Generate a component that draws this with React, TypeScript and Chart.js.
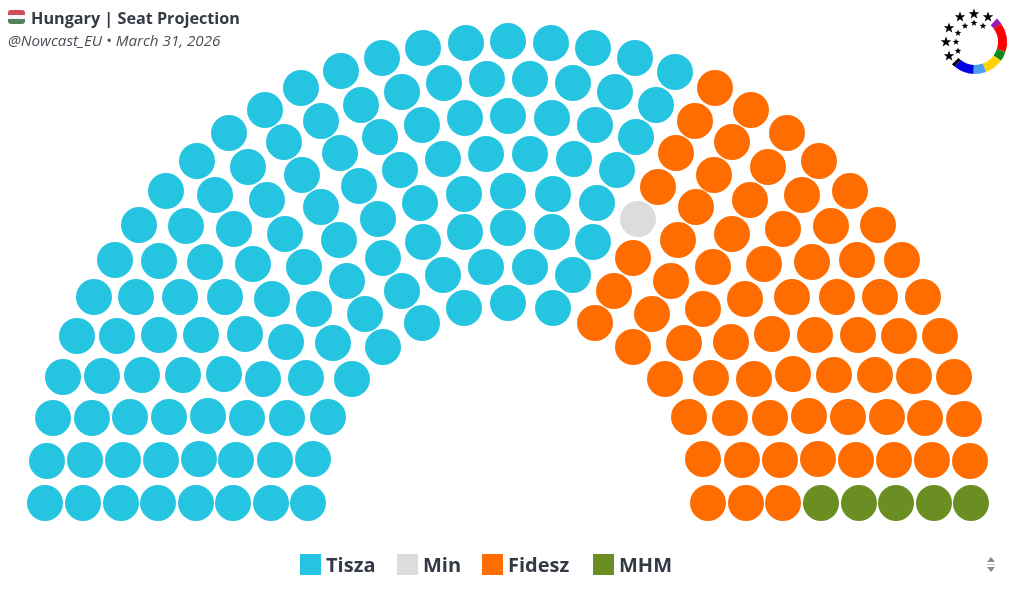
import React, { useEffect, useRef } from 'react';
import { Chart, registerables } from 'chart.js';

Chart.register(...registerables);

// seat positions, [x, y], one line per ring from the outside in
const tiszaSeats: number[][] = [
    [45, 503], [47, 461], [53, 418], [63, 377], [77, 336], [94, 297], [115, 260], [139, 225], [166, 191], [197, 161], [229, 133], [265, 110], [301, 88], [341, 71], [382, 58], [423, 48], [466, 43], [508, 41], [551, 43], [593, 48], [635, 58], [675, 72],
    [83, 503], [85, 460], [92, 418], [102, 376], [117, 336], [136, 297], [159, 261], [186, 226], [215, 195], [248, 167], [284, 142], [321, 121], [361, 105], [402, 92], [444, 83], [487, 79], [530, 79], [573, 83], [615, 92], [656, 105],
    [121, 503], [123, 460], [130, 417], [142, 375], [159, 335], [180, 297], [205, 262], [234, 229], [267, 200], [302, 175], [340, 153], [380, 137], [422, 125], [465, 118], [508, 116], [552, 118], [595, 125], [636, 137],
    [158, 503], [161, 460], [169, 417], [183, 375], [201, 335], [225, 297], [253, 264], [285, 234], [321, 207], [359, 186], [400, 170], [443, 159], [486, 154], [530, 154], [574, 159], [617, 170],
    [196, 503], [199, 459], [208, 416], [224, 374], [245, 334], [272, 299], [304, 267], [339, 240], [378, 219], [420, 203], [464, 194], [508, 191], [553, 194], [597, 203],
    [233, 503], [236, 460], [247, 418], [263, 379], [286, 342], [314, 309], [347, 281], [383, 258], [423, 242], [465, 232], [508, 228], [552, 232], [593, 242],
    [271, 503], [275, 460], [287, 418], [306, 378], [333, 343], [365, 314], [402, 291], [443, 275], [486, 267], [530, 267], [573, 275],
    [308, 503], [313, 459], [328, 417], [352, 379], [383, 347], [422, 323], [464, 308], [508, 303], [553, 308],
];
const minSeats: number[][] = [[638, 219]];
const fideszSeats: number[][] = [
    [715, 88], [751, 110], [787, 133], [819, 161], [850, 191], [878, 225], [902, 260], [923, 297], [940, 336], [954, 377], [964, 419], [970, 461],
    [695, 121], [732, 142], [768, 167], [802, 195], [831, 226], [857, 260], [880, 297], [899, 336], [914, 376], [925, 418], [932, 460],
    [676, 153], [714, 175], [750, 200], [783, 229], [812, 262], [837, 297], [858, 335], [875, 375], [887, 417], [894, 460],
    [658, 187], [696, 207], [732, 234], [764, 264], [792, 297], [815, 335], [834, 375], [848, 417], [856, 460],
    [678, 240], [713, 267], [745, 299], [772, 334], [793, 374], [809, 416], [818, 459],
    [633, 258], [671, 281], [703, 309], [731, 342], [754, 379], [770, 418], [780, 460], [783, 503],
    [614, 291], [652, 314], [684, 343], [711, 378], [730, 418], [742, 460], [746, 503],
    [595, 323], [633, 347], [665, 379], [689, 417], [703, 459], [708, 503],
];
const mhmSeats: number[][] = [[821, 503], [859, 503], [896, 503], [934, 503], [971, 503]];

const partyNames = ['Tisza', 'Min', 'Fidesz', 'MHM'];
const partyColors = ['#25c5e2', '#dcdcdc', '#ff6d00', '#6b8e23'];
const partySeats = [tiszaSeats, minSeats, fideszSeats, mhmSeats];
const legendLefts = [300, 397, 482, 593];

const textColor = '#333a45';
const fontFamily = '"Open Sans", sans-serif';

// logo ring: colour, start and end angle in degrees clockwise from the top
const logoArcs: [string, number, number][] = [
    ['#9b19b5', 43, 55],
    ['#ff0000', 55, 108],
    ['#0c8a1c', 108, 126],
    ['#ffd400', 126, 160],
    ['#4a9df0', 160, 183],
    ['#0000e6', 183, 219],
    ['#000000', 219, 226],
];
const logoBigStars = [[974, 14], [960, 17], [988, 17], [949, 28], [946, 42], [949, 56]];
const logoSmallStars = [[974, 23], [965, 26], [983, 26], [958, 33], [956, 42], [958, 51]];

function starPoints(cx: number, cy: number, r: number) {
    const pts: string[] = [];
    for (let i = 0; i < 10; i++) {
        const rad = i % 2 === 0 ? r : r * 0.42;
        const a = (i * Math.PI) / 5 - Math.PI / 2;
        pts.push(`${cx + rad * Math.cos(a)},${cy + rad * Math.sin(a)}`);
    }
    return pts.join(' ');
}

function arcPath(cx: number, cy: number, r: number, from: number, to: number) {
    const p = (d: number) => {
        const a = ((d - 90) * Math.PI) / 180;
        return `${cx + r * Math.cos(a)} ${cy + r * Math.sin(a)}`;
    };
    return `M ${p(from)} A ${r} ${r} 0 0 1 ${p(to)}`;
}

export default function App() {
    const chartRef = useRef<HTMLCanvasElement | null>(null);

    useEffect(() => {
        document.body.style.margin = '0';
        if (!chartRef.current) return;

        const chart = new Chart(chartRef.current, {
            type: 'scatter',
            data: {
                datasets: partyNames.map((name, i) => ({
                    label: name,
                    data: partySeats[i].map(([x, y]) => ({ x, y })),
                    backgroundColor: partyColors[i],
                    borderWidth: 0,
                    pointRadius: 18,
                    pointHoverRadius: 18,
                })),
            },
            options: {
                responsive: false,
                animation: false,
                layout: { padding: 0, autoPadding: false },
                scales: {
                    x: { type: 'linear', display: false, min: 0, max: 1016 },
                    y: { type: 'linear', display: false, min: 0, max: 589, reverse: true },
                },
                plugins: {
                    legend: { display: false },
                    title: { display: false },
                },
            },
        });

        return () => {
            chart.destroy();
        };
    }, []);

    return (
        <div style={{ position: 'relative', width: 1016, height: 589, background: '#fff', overflow: 'hidden', fontFamily, color: textColor }}>
            <canvas ref={chartRef} width={1016} height={589} style={{ position: 'absolute', left: 0, top: 0 }}></canvas>

            {/* flag */}
            <div style={{ position: 'absolute', left: 8, top: 10, width: 17, height: 14, borderRadius: 3, background: 'linear-gradient(#cd4e5a 0 35%, #f4f4f4 35% 65%, #55805f 65%)' }}></div>
            <div style={{ position: 'absolute', left: 31, top: 7, fontSize: 16.2, fontWeight: 700, lineHeight: '22px', whiteSpace: 'nowrap' }}>Hungary | Seat Projection</div>
            <div style={{ position: 'absolute', left: 8, top: 30, fontSize: 15.2, fontStyle: 'italic', lineHeight: '20px', color: '#4a4f57', whiteSpace: 'nowrap' }}>@Nowcast_EU • March 31, 2026</div>

            <svg width={1016} height={589} style={{ position: 'absolute', left: 0, top: 0, pointerEvents: 'none' }}>
                {logoArcs.map(([color, from, to]) => (
                    <path key={color} d={arcPath(975, 42, 27.5, from, to)} fill="none" stroke={color} strokeWidth={9} />
                ))}
                {logoBigStars.map(([x, y]) => <polygon key={`${x}-${y}`} points={starPoints(x, y, 5.5)} fill="#000" />)}
                {logoSmallStars.map(([x, y]) => <polygon key={`${x}-${y}`} points={starPoints(x, y, 3.5)} fill="#000" />)}
                {/* scroll arrows next to the legend */}
                <polygon points="987,562 995,562 991,557" fill="#8a8a8a" />
                <rect x={987} y={564} width={8} height={1} fill="#c4c4c4" />
                <polygon points="987,567 995,567 991,572" fill="#8a8a8a" />
            </svg>

            {partyNames.map((name, i) => (
                <div key={name} style={{ position: 'absolute', left: legendLefts[i], top: 550, display: 'flex', alignItems: 'center', fontSize: 20, fontWeight: 700, lineHeight: '29px', whiteSpace: 'nowrap' }}>
                    <span style={{ width: 21, height: 21, background: partyColors[i], marginRight: 5 }}></span>
                    <span>{name}</span>
                </div>
            ))}
        </div>
    );
}
